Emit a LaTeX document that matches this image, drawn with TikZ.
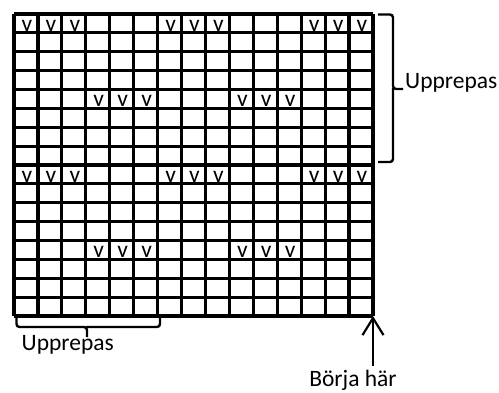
\documentclass[tikz,border=0pt]{standalone}
\usepackage{fontspec}
\setmainfont{Carlito}
\usetikzlibrary{arrows.meta}
\begin{document}
\begin{tikzpicture}[x=1pt,y=-1pt,
  gridline/.style={line width=3.2pt},
  bracket/.style={line width=2.4pt,rounded corners=3pt},
  vmark/.style={anchor=base,inner sep=0pt,font=\fontsize{23.5}{26}\selectfont},
  label/.style={anchor=base west,inner sep=0pt,font=\fontsize{23.5}{26}\selectfont}]
\useasboundingbox (0,0) rectangle (499,392);
\pgfmathsetmacro{\cw}{359/15}
\pgfmathsetmacro{\ch}{302/16}
% grid
\foreach \i in {0,...,15}{
  \draw[gridline] ({14+\i*\cw},14) -- ({14+\i*\cw},316);
}
\foreach \j in {0,...,16}{
  \draw[gridline] (14,{14+\j*\ch}) -- (373,{14+\j*\ch});
}
\coordinate (corner) at (373,316);
% v marks
\foreach \r/\cols in {1/{1,2,3,7,8,9,13,14,15},5/{4,5,6,10,11,12},9/{1,2,3,7,8,9,13,14,15},13/{4,5,6,10,11,12}}{
  \foreach \c in \cols{
    \node[vmark] (v-\r-\c) at ({14+(\c-0.5)*\cw+1},{14+\r*\ch-1.8}) {v};
  }
}
% right brace
\draw[bracket] (378,14.5) -| (393,89) -- (403,89);
\draw[bracket] (393,88) |- (378,162);
\node[label] (rlabel) at (405,88.5) {Upprepas};
% bottom brace
\draw[bracket] (16.5,317) |- (87,327) -- (87,337);
\draw[bracket] (86,327) -| (160,317);
\node[label] (blabel) at (21.5,350) {Upprepas};
% arrow
\node[anchor=base,inner sep=0pt,font=\fontsize{23.5}{26}\selectfont] (start) at (353,386.5) {Börja här};
\coordinate (tail) at (373,366);
\draw[line width=2.2pt,-{Straight Barb[length=17pt,width=21pt,line width=2.2pt]}] (tail) -- (corner);
\end{tikzpicture}
\end{document}
